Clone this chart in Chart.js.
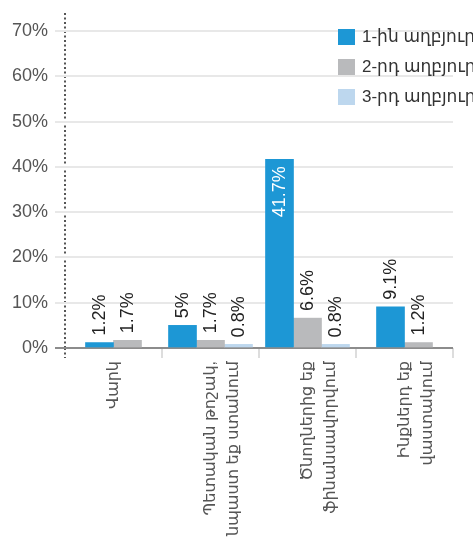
<!DOCTYPE html>
<html lang="hy">
<head>
<meta charset="utf-8">
<title>Եկամտի աղբյուրներ</title>
<script src="https://cdn.jsdelivr.net/npm/chart.js@4/dist/chart.umd.min.js"></script>
<style>
  html, body { margin: 0; padding: 0; background: #fff; overflow: hidden; }
  #wrap { position: relative; width: 473px; height: 540px; }
  #legend { position: absolute; left: 338px; top: 29px; font-family: "Liberation Sans", "DejaVu Sans", Arial, sans-serif; }
  .item { position: absolute; left: 0; white-space: nowrap; height: 17px; }
  .sw { position: absolute; left: 0; top: 0; width: 17px; height: 16px; }
  .lbl { position: absolute; left: 24px; top: -2px; font-size: 17px; line-height: 20px; color: #333; }
</style>
</head>
<body>
<div id="wrap">
  <canvas id="chart"></canvas>
  <div id="legend"></div>
</div>
<script>
// Income sources, share of respondents (%)
const categories = [
  ["Վարկ"],
  ["Պետական թոշակ,", "նպաստ եք ստանում"],
  ["Ծնողներից եք", "ֆինանսավորվում"],
  ["Ինքներդ եք", "վաստակում"]
];
const seriesNames = ["1-ին աղբյուր", "2-րդ աղբյուր", "3-րդ աղբյուր"];
const firstSource  = [1.2, 5, 41.7, 9.1];
const secondSource = [1.7, 1.7, 6.6, 1.2];
const thirdSource  = [null, 0.8, 0.8, null];
const yTicks = [0, 10, 20, 30, 40, 50, 60, 70];

const colors = ["#1d97d5", "#b9babc", "#bdd7ee"];
const FONT = '"Liberation Sans", "DejaVu Sans", Arial, sans-serif';
Chart.defaults.font.family = FONT;

// Value labels drawn rotated along each bar
const valueLabels = {
  id: "valueLabels",
  afterDatasetsDraw(chart) {
    const ctx = chart.ctx;
    ctx.save();
    ctx.font = "18px " + FONT;
    ctx.textBaseline = "middle";
    chart.data.datasets.forEach((ds, di) => {
      const meta = chart.getDatasetMeta(di);
      meta.data.forEach((el, i) => {
        const v = ds.data[i];
        if (v === null || v === undefined) return;
        const text = v + "%";
        const w = ctx.measureText(text).width;
        const h = el.base - el.y;
        ctx.save();
        if (h > w + 20) {
          ctx.translate(el.x, el.y + 7);
          ctx.rotate(-Math.PI / 2);
          ctx.textAlign = "right";
          ctx.fillStyle = "#ffffff";
        } else {
          ctx.translate(el.x, el.y - 7);
          ctx.rotate(-Math.PI / 2);
          ctx.textAlign = "left";
          ctx.fillStyle = "#222222";
        }
        ctx.fillText(text, 0, 1);
        ctx.restore();
      });
    });
    ctx.restore();
  }
};

const sources = [firstSource, secondSource, thirdSource];
const chart = new Chart(document.getElementById("chart"), {
  type: "bar",
  data: {
    labels: categories,
    datasets: sources.map((d, i) => ({
      label: seriesNames[i],
      data: d,
      backgroundColor: colors[i],
      borderWidth: 0
    }))
  },
  options: {
    responsive: true,
    maintainAspectRatio: false,
    animation: false,
    layout: { padding: { left: 0, right: 20, top: 13, bottom: 0 } },
    datasets: { bar: { barThickness: 28, skipNull: true } },
    plugins: { legend: { display: false }, tooltip: { enabled: false } },
    scales: {
      x: {
        // only the left boundary line is shown: it forms the dotted value axis
        grid: {
          drawOnChartArea: true,
          drawTicks: true,
          tickLength: 10,
          color: c => c.index === 0 ? "#555555" : "rgba(0,0,0,0)",
          lineWidth: 2,
          tickColor: c => c.index === 0 ? "#555555" : "#d2d2d2",
          tickWidth: c => c.index === 0 ? 2 : 1.5,
          tickBorderDash: c => c.index === 0 ? [2, 2.5] : []
        },
        border: { display: false, dash: [2, 2.5] },
        ticks: {
          autoSkip: false,
          maxRotation: 90,
          minRotation: 90,
          padding: 3,
          color: "#555",
          font: { size: 16, lineHeight: 1.45 }
        },
        afterFit: s => { s.height = 192; }
      },
      y: {
        min: 0,
        max: 74,
        afterBuildTicks: s => { s.ticks = yTicks.map(v => ({ value: v })); },
        ticks: {
          padding: 7,
          color: "#555",
          font: { size: 18 },
          callback: v => v + "%"
        },
        grid: {
          color: c => (c.tick && c.tick.value === 0) ? "#8c8c8c" : "#e8e8e8",
          tickColor: c => (c.tick && c.tick.value === 0) ? "#8c8c8c" : "#e8e8e8",
          lineWidth: 2,
          tickLength: 10
        },
        border: { display: false },
        afterFit: s => { s.width = 65; s.paddingTop = 0; s.paddingBottom = 0; }
      }
    }
  },
  plugins: [valueLabels]
});

// Legend
const legend = document.getElementById("legend");
seriesNames.forEach((name, i) => {
  const item = document.createElement("div");
  item.className = "item";
  item.style.top = (i * 30) + "px";
  const sw = document.createElement("span");
  sw.className = "sw";
  sw.style.background = colors[i];
  const lbl = document.createElement("span");
  lbl.className = "lbl";
  lbl.textContent = name;
  item.appendChild(sw);
  item.appendChild(lbl);
  legend.appendChild(item);
});
</script>
</body>
</html>
